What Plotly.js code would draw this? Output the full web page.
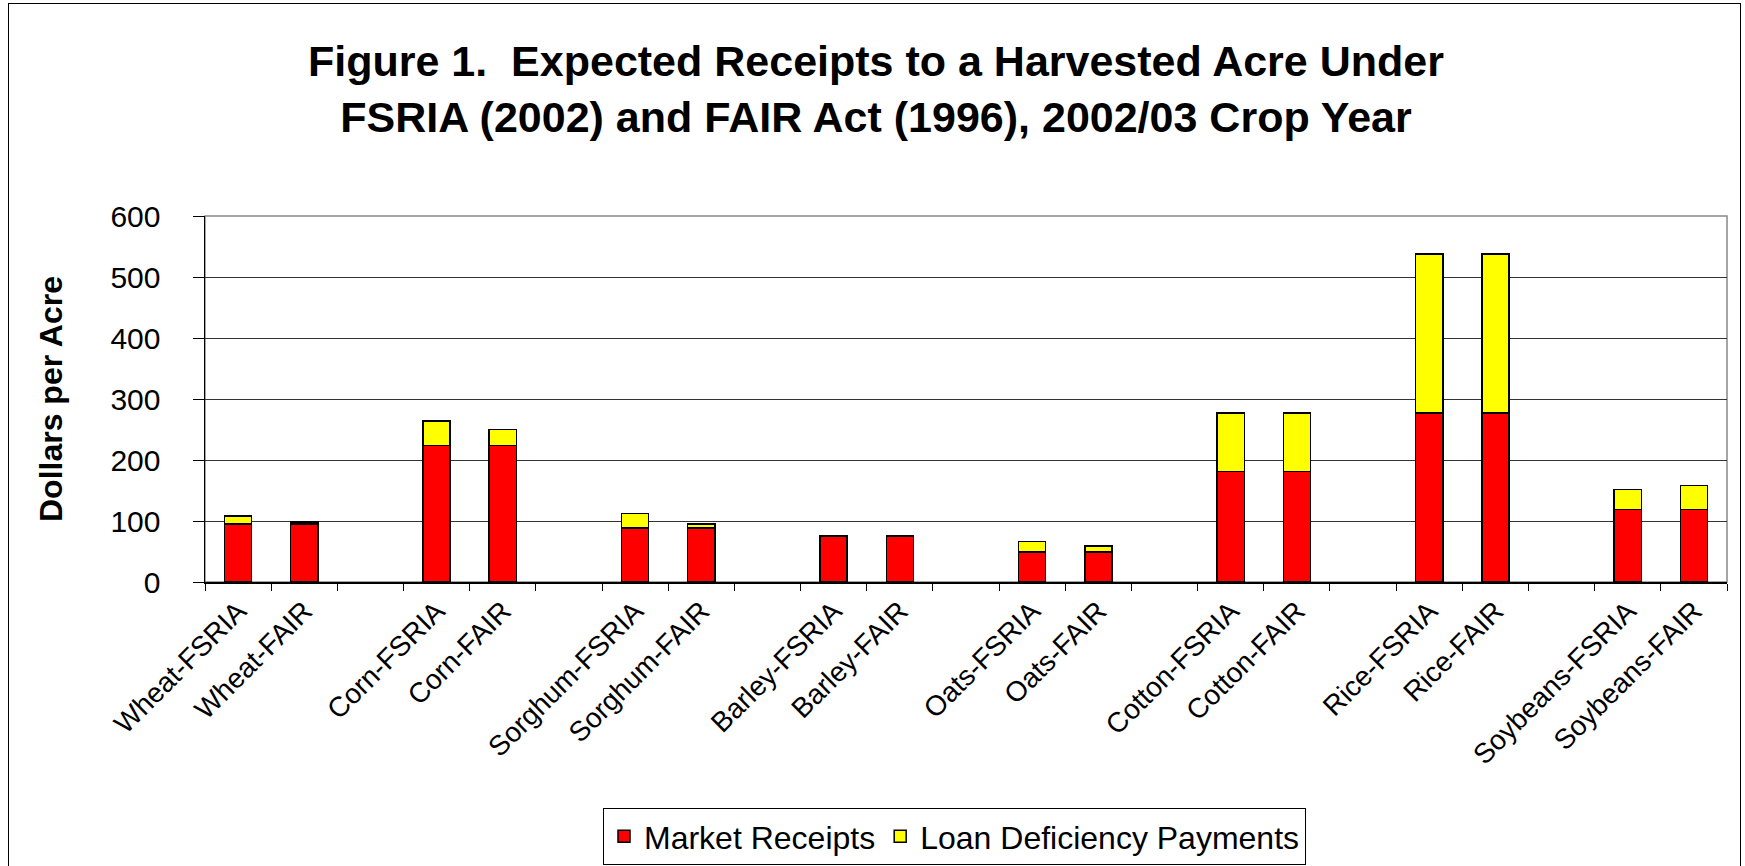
<!DOCTYPE html>
<html>
<head>
<meta charset="utf-8">
<script src="https://cdn.plot.ly/plotly-3.0.1.min.js"></script>
<style>
  html, body { margin: 0; padding: 0; background: #fff; }
  #wrap { position: relative; width: 1745px; height: 866px; overflow: hidden; }
  #chart { position: absolute; left: 0; top: 0; width: 1745px; height: 866px; }
  #frame { position: absolute; left: 8px; top: 3px; width: 1733px; height: 900px;
           border: 1.5px solid #000; pointer-events: none; box-sizing: border-box; }
</style>
</head>
<body>
<div id="wrap">
  <div id="chart"></div>
  <div id="frame"></div>
</div>
<script>
// Crops (groups) and programs
const crops = ['Wheat', 'Corn', 'Sorghum', 'Barley', 'Oats', 'Cotton', 'Rice', 'Soybeans'];
const programs = ['FSRIA', 'FAIR'];

// Values in dollars per acre, in order Crop-FSRIA, Crop-FAIR for each crop
const marketReceipts = [95, 95, 224, 224, 88.5, 88.5, 75.5, 75.5, 49, 49, 181, 181, 277, 277, 118.5, 118.5];
const loanDeficiencyPayments = [13.5, 3.5, 40, 26, 23.5, 7, 0, 0, 17, 10, 96, 96, 261, 261, 33, 40];

const yTickVals = [0, 100, 200, 300, 400, 500, 600];

// Build category list with blank spacer categories between crop groups
const categories = [];
const mr = [];
const ldp = [];
let k = 0;
crops.forEach((c, i) => {
  programs.forEach(p => {
    categories.push(c + '-' + p);
    mr.push(marketReceipts[k]);
    ldp.push(loanDeficiencyPayments[k]);
    k++;
  });
  if (i < crops.length - 1) {
    categories.push(' '.repeat(i + 1));
    mr.push(null);
    ldp.push(null);
  }
});

const FONT = 'Liberation Sans, Arial, sans-serif';

const traces = [
  {
    type: 'bar', name: 'Market Receipts', x: categories, y: mr,
    marker: { color: '#FF0000', line: { color: '#000', width: 1.5 } },
    hoverinfo: 'x+y'
  },
  {
    type: 'bar', name: 'Loan Deficiency Payments', x: categories, y: ldp,
    marker: { color: '#FFFF00', line: { color: '#000', width: 1.5 } },
    hoverinfo: 'x+y'
  }
];

const layout = {
  width: 1745, height: 866,
  paper_bgcolor: 'rgba(0,0,0,0)', plot_bgcolor: '#fff',
  margin: { l: 205, r: 18, t: 216, b: 284, pad: 0 },
  barmode: 'stack',
  bargap: 0.59,
  showlegend: true,
  font: { family: FONT, color: '#000' },
  title: {
    text: '<b>Figure 1.  Expected Receipts to a Harvested Acre Under<br>FSRIA (2002) and FAIR Act (1996), 2002/03 Crop Year</b>',
    font: { family: FONT, size: 43, color: '#000' },
    x: 0.502, xanchor: 'center',
    y: 1 - 76 / 866, yref: 'container', yanchor: 'top'
  },
  xaxis: {
    type: 'category',
    categoryorder: 'array', categoryarray: categories,
    tickson: 'boundaries',
    ticks: 'outside', ticklen: 7, tickwidth: 1, tickcolor: '#000',
    tickangle: -45,
    tickfont: { family: FONT, size: 28, color: '#000' },
    showline: true, linecolor: '#000', linewidth: 1.5,
    showgrid: false, zeroline: false,
    automargin: false
  },
  yaxis: {
    range: [0, 600],
    tickvals: yTickVals,
    ticks: 'outside', ticklen: 11, tickwidth: 1, tickcolor: '#000',
    ticklabelstandoff: 26,
    tickfont: { family: FONT, size: 30, color: '#000' },
    showline: true, linecolor: '#000', linewidth: 1.5,
    showgrid: true, gridcolor: '#333', gridwidth: 1,
    zeroline: false,
    automargin: false,
    title: { text: '<b>Dollars per Acre</b>', font: { family: FONT, size: 32, color: '#000' }, standoff: 38 }
  },
  shapes: [
    { type: 'rect', xref: 'paper', yref: 'paper', x0: 0, x1: 1, y0: 0, y1: 1,
      line: { color: '#888', width: 1.5 }, fillcolor: 'rgba(0,0,0,0)', layer: 'below' }
  ],
  legend: {
    orientation: 'h',
    xref: 'container', yref: 'container',
    x: 603 / 1745, xanchor: 'left',
    y: 1 - 808 / 866, yanchor: 'top',
    bgcolor: '#fff', bordercolor: '#000', borderwidth: 1,
    font: { family: FONT, size: 32, color: '#000' },
    traceorder: 'normal',
    itemwidth: 30
  }
};

Plotly.newPlot('chart', traces, layout, { displayModeBar: false, staticPlot: true });
</script>
</body>
</html>
